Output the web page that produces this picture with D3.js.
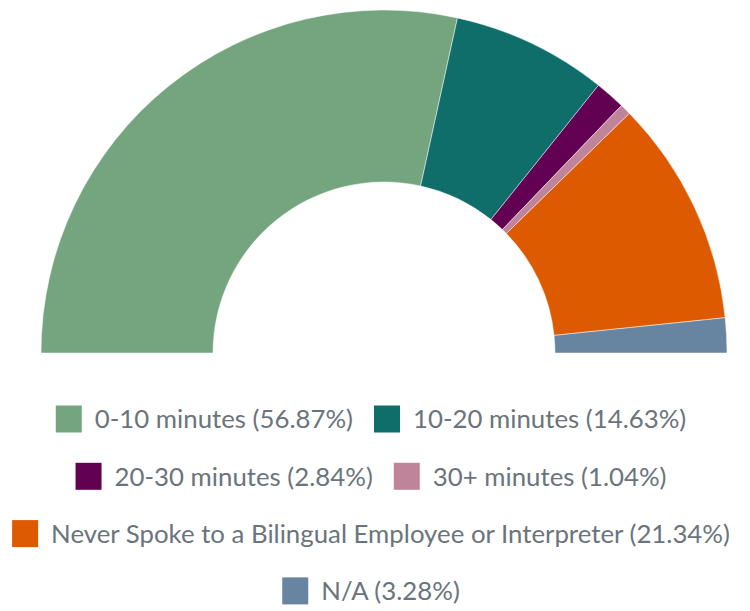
<!DOCTYPE html>
<html>
<head>
<meta charset="utf-8">
<script src="https://cdn.jsdelivr.net/npm/d3@7"></script>
<style>
  body { margin: 0; background: #fff; }
  svg { display: block; }
</style>
</head>
<body>
<div id="chart"></div>
<script>
const categories = [
    "0-10 minutes",
    "10-20 minutes",
    "20-30 minutes",
    "30+ minutes",
    "Never Spoke to a Bilingual Employee or Interpreter",
    "N/A"
];
const percents = [56.87, 14.63, 2.84, 1.04, 21.34, 3.28];
const colors = ["#74a57f", "#0f6e6a", "#620051", "#c0849a", "#dd5a00", "#6784a0"];

const width = 750;
const height = 611;

const data = categories.map((c, i) => ({ name: c, value: percents[i], color: colors[i] }));

const svg = d3.select('#chart')
    .append("svg")
    .attr("width", width)
    .attr("height", height);

// half donut
const cx = 384, cy = 353;
const outerR = 343, innerR = 171;

const pie = d3.pie()
    .sort(null)
    .value(d => d.value)
    .startAngle(-Math.PI / 2)
    .endAngle(Math.PI / 2);

const arc = d3.arc()
    .innerRadius(innerR)
    .outerRadius(outerR);

svg.append("g")
    .attr("transform", `translate(${cx},${cy})`)
  .selectAll("path")
    .data(pie(data))
    .join("path")
    .attr("d", arc)
    .attr("fill", d => d.data.color)
    .attr("stroke", "#ffffff")
    .attr("stroke-opacity", 0.6)
    .attr("stroke-width", 0.8);

// legend, wrapped into centred rows
const fontSize = 25.8;
const sw = 26, swGap = 13, itemGap = 21;
const maxRow = 735;
const legendX = 371;
const rowY0 = 419, rowStep = 57.3;

const legend = svg.append("g")
    .attr("font-family", "Lato, 'Open Sans', sans-serif")
    .attr("font-size", fontSize)
    .attr("fill", "#6b747c");

// measure labels
const items = data.map(d => {
    const label = `${d.name} (${d.value.toFixed(2)}%)`;
    const t = legend.append("text").text(label);
    const w = t.node().getComputedTextLength();
    t.remove();
    return { d, label, w: sw + swGap + w };
});

const rows = [];
let cur = [], curW = 0;
items.forEach(it => {
    const add = cur.length ? itemGap + it.w : it.w;
    if (cur.length && curW + add > maxRow) {
        rows.push({ items: cur, w: curW });
        cur = [it]; curW = it.w;
    } else {
        cur.push(it); curW += add;
    }
});
rows.push({ items: cur, w: curW });

rows.forEach((row, r) => {
    let x = legendX - row.w / 2;
    const y = rowY0 + r * rowStep;
    row.items.forEach(it => {
        const g = legend.append("g").attr("transform", `translate(${x},${y})`);
        g.append("rect")
            .attr("x", 0)
            .attr("y", -13.5)
            .attr("width", sw)
            .attr("height", 27)
            .attr("fill", it.d.color);
        g.append("text")
            .attr("x", sw + swGap)
            .attr("dy", "0.36em")
            .text(it.label);
        x += it.w + itemGap;
    });
});
</script>
</body>
</html>
